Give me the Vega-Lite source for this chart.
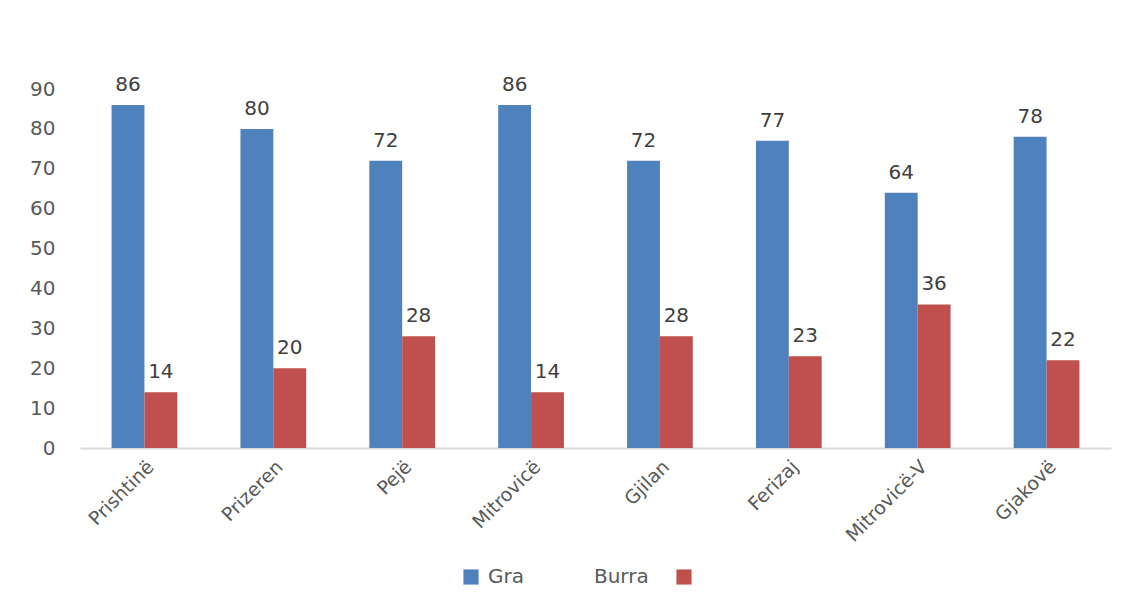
{
  "$schema": "https://vega.github.io/schema/vega-lite/v6.json",
  "autosize": {"type": "none"},
  "width": 1031,
  "height": 359,
  "padding": {"left": 80, "top": 89, "right": 25, "bottom": 157},
  "background": "white",
  "config": {"view": {"stroke": null}, "font": "DejaVu Sans"},
  "data": {"values": [
    {"qyteti": "Prishtinë", "gjinia": "Gra", "vlera": 86},
    {"qyteti": "Prishtinë", "gjinia": "Burra", "vlera": 14},
    {"qyteti": "Prizeren", "gjinia": "Gra", "vlera": 80},
    {"qyteti": "Prizeren", "gjinia": "Burra", "vlera": 20},
    {"qyteti": "Pejë", "gjinia": "Gra", "vlera": 72},
    {"qyteti": "Pejë", "gjinia": "Burra", "vlera": 28},
    {"qyteti": "Mitrovicë", "gjinia": "Gra", "vlera": 86},
    {"qyteti": "Mitrovicë", "gjinia": "Burra", "vlera": 14},
    {"qyteti": "Gjilan", "gjinia": "Gra", "vlera": 72},
    {"qyteti": "Gjilan", "gjinia": "Burra", "vlera": 28},
    {"qyteti": "Ferizaj", "gjinia": "Gra", "vlera": 77},
    {"qyteti": "Ferizaj", "gjinia": "Burra", "vlera": 23},
    {"qyteti": "Mitrovicë-V", "gjinia": "Gra", "vlera": 64},
    {"qyteti": "Mitrovicë-V", "gjinia": "Burra", "vlera": 36},
    {"qyteti": "Gjakovë", "gjinia": "Gra", "vlera": 78},
    {"qyteti": "Gjakovë", "gjinia": "Burra", "vlera": 22}
  ]},
  "encoding": {
    "x": {
      "field": "qyteti", "type": "nominal", "sort": null, "title": null,
      "scale": {"paddingInner": 0.49, "paddingOuter": 0.245},
      "axis": {
        "labelAngle": -45, "labelFontSize": 19, "labelColor": "#595959",
        "ticks": false, "domainColor": "#d9d9d9", "domainWidth": 2,
        "labelPadding": 9
      }
    },
    "xOffset": {"field": "gjinia", "type": "nominal", "sort": ["Gra", "Burra"]},
    "y": {
      "field": "vlera", "type": "quantitative", "title": null,
      "scale": {"domain": [0, 90], "nice": false},
      "axis": {
        "values": [0, 10, 20, 30, 40, 50, 60, 70, 80, 90],
        "grid": false, "domain": false, "ticks": false,
        "labelFontSize": 20, "labelColor": "#595959", "labelPadding": 25
      }
    }
  },
  "layer": [
    {
      "mark": {"type": "bar"},
      "encoding": {
        "color": {
          "field": "gjinia", "type": "nominal", "sort": ["Gra", "Burra"],
          "scale": {"domain": ["Gra", "Burra"], "range": ["#4f81bd", "#c0504d"]},
          "legend": {
            "title": null, "orient": "none", "direction": "horizontal",
            "legendX": 381, "legendY": 478,
            "symbolType": "square", "symbolSize": 230, "symbolStrokeWidth": 0,
            "labelFontSize": 20, "labelColor": "#595959", "labelOffset": 7,
            "labelLimit": 400, "columnPadding": 25,
            "labelExpr": "datum.label == 'Gra' ? 'Gra\u00a0\u00a0\u00a0\u00a0\u00a0\u00a0\u00a0\u00a0\u00a0\u00a0\u00a0Burra' : ''"
          }
        }
      }
    },
    {
      "mark": {"type": "text", "baseline": "bottom", "dy": -10, "fontSize": 20, "color": "#404040"},
      "encoding": {"text": {"field": "vlera", "type": "quantitative"}}
    }
  ]
}
